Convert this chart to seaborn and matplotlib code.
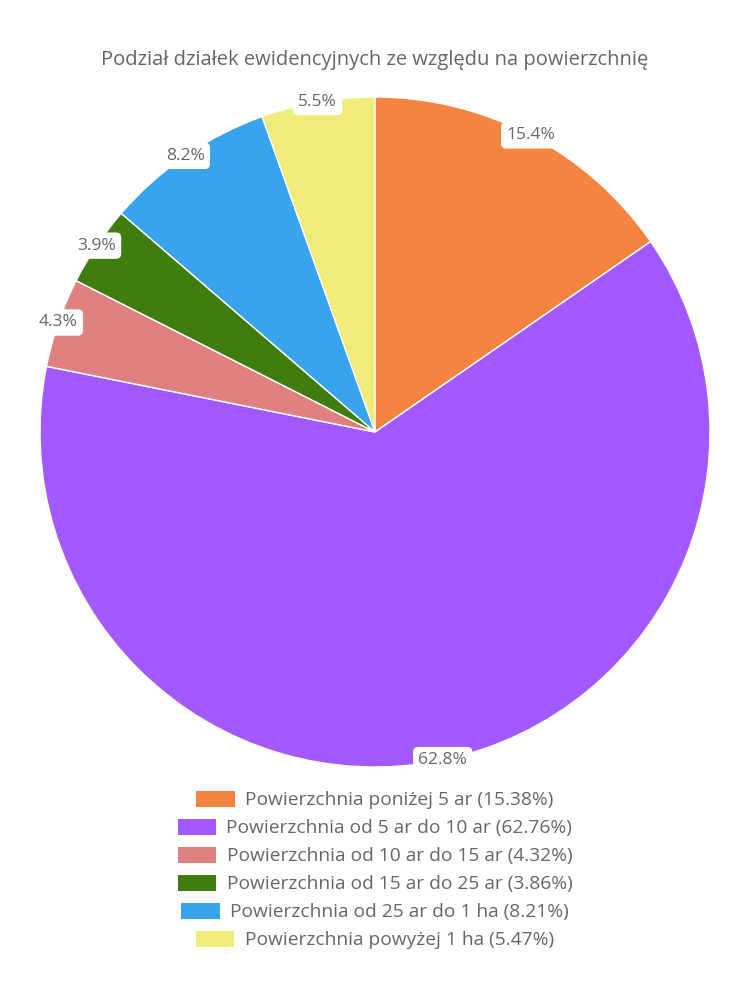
import matplotlib
matplotlib.use("Agg")
import matplotlib.pyplot as plt
import matplotlib.patches as mpatches
import seaborn as sns
import numpy as np

title = "Podział działek ewidencyjnych ze względu na powierzchnię"
categories = [
    "Powierzchnia poniżej 5 ar",
    "Powierzchnia od 5 ar do 10 ar",
    "Powierzchnia od 10 ar do 15 ar",
    "Powierzchnia od 15 ar do 25 ar",
    "Powierzchnia od 25 ar do 1 ha",
    "Powierzchnia powyżej 1 ha",
]
values = [15.38, 62.76, 4.32, 3.86, 8.21, 5.47]
colors = ["#F4843F", "#A259FF", "#E08080", "#3E7D0E", "#38A4EC", "#F0EC7A"]

sns.set_theme(style="white")
plt.rcParams['font.family'] = ['Open Sans', 'DejaVu Sans']
text_color = "#666666"

fig = plt.figure(figsize=(7.5, 10), dpi=100)
ax = fig.add_axes([40/750, (1000-432-335)/1000, 670/750, 670/1000])
wedges, _ = ax.pie(values, colors=colors, startangle=90, counterclock=False,
                   radius=1.0, wedgeprops=dict(edgecolor="white", linewidth=1))
ax.set_xlim(-1, 1)
ax.set_ylim(-1, 1)
ax.set_aspect("equal")
ax.axis("off")

for w, v in zip(wedges, values):
    ang = np.deg2rad((w.theta1 + w.theta2) / 2)
    x, y = np.cos(ang), np.sin(ang)
    ax.text(x, y, f"{v:.1f}%", ha="center", va="center", fontsize=12.5,
            color=text_color,
            bbox=dict(boxstyle="round,pad=0.3,rounding_size=0.3", fc="white", ec="none"))

fig.text(0.5, 0.94, title, ha="center", va="center", fontsize=14.5, color=text_color)

row_y = [800, 828, 856, 884, 912, 940]
for cat, v, c, yy in zip(categories, values, colors, row_y):
    h = mpatches.Patch(facecolor=c, edgecolor="none")
    leg = fig.legend([h], [f"{cat} ({v:.2f}%)"], loc="center",
                     bbox_to_anchor=(0.5, 1 - yy/1000), frameon=False,
                     fontsize=13.8, handlelength=2.0, handleheight=0.9,
                     handletextpad=0.55, labelcolor=text_color,
                     borderpad=0, borderaxespad=0)

fig.savefig("out.png", dpi=100, facecolor="white")
